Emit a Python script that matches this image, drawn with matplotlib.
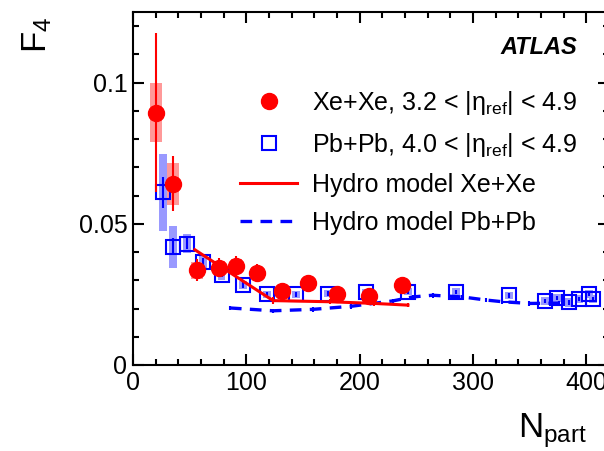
import matplotlib
matplotlib.use("Agg")
import matplotlib.pyplot as plt
from matplotlib.patches import Rectangle
from matplotlib.lines import Line2D
from matplotlib.ticker import MultipleLocator, FormatStrFormatter

plt.rcParams['font.family'] = ['Liberation Sans', 'DejaVu Sans']
plt.rcParams['mathtext.fontset'] = 'custom'
plt.rcParams['mathtext.rm'] = 'Liberation Sans'
plt.rcParams['mathtext.it'] = 'Liberation Sans:italic'

# Xe+Xe measurement
xe_npart = [20.3, 35.2, 56.1, 76.0, 91.3, 109.8, 131.9, 154.5, 180.0, 208.2, 237.6]
xe_f4 = [0.0894, 0.0642, 0.0336, 0.0345, 0.0350, 0.0326, 0.0261, 0.0291, 0.0251, 0.0245, 0.0285]
xe_stat = [0.028, 0.0098, 0.004, 0.0035, 0.0035, 0.003, 0.002, 0.002, 0.002, 0.002, 0.002]
xe_sys = [0.0104, 0.0075, 0.003, 0.0025, 0.0025, 0.002, 0.0018, 0.0018, 0.0018, 0.0018, 0.0018]

# Pb+Pb measurement
pb_npart = [26.1, 35.5, 47.3, 61.4, 78.1, 97.2, 118.3, 143.6, 172.0, 205.3, 242.6,
            284.6, 332.0, 363.6, 374.0, 384.4, 393.8, 402.6, 405.6]
pb_f4 = [0.0612, 0.0418, 0.0430, 0.0365, 0.0320, 0.0283, 0.0250, 0.0250, 0.0253, 0.0257, 0.0259,
         0.0259, 0.0247, 0.0227, 0.0238, 0.0222, 0.0233, 0.0251, 0.0233]
pb_stat = [0.0055, 0.003, 0.002, 0.0015, 0.001, 0.001, 0.001, 0.0008, 0.0008, 0.0008, 0.0008,
           0.0008, 0.0008, 0.0008, 0.0008, 0.0008, 0.0008, 0.0008, 0.0008]
pb_sys = [0.0136, 0.0074, 0.0035, 0.0025, 0.002, 0.0015, 0.0012, 0.0012, 0.0012, 0.0012, 0.0012,
          0.0012, 0.0012, 0.0015, 0.0015, 0.0015, 0.0015, 0.0015, 0.0015]

# hydrodynamic model curves
hydro_xe_npart = [54.6, 123.6, 173.6, 213.0, 242.6]
hydro_xe_f4 = [0.0408, 0.0228, 0.0224, 0.0218, 0.0212]
hydro_xe_err = [0.0, 0.0012, 0.0008, 0.0008, 0.0008]

hydro_pb_npart = [85.5, 123.6, 158.6, 192.7, 229.3, 246.7, 264.3, 290.7, 311.6, 326.0, 349.8, 376.0]
hydro_pb_f4 = [0.0202, 0.0192, 0.0197, 0.0208, 0.0227, 0.0241, 0.0247, 0.0241, 0.0230, 0.0224, 0.0218, 0.0219]
hydro_pb_err = [0.0008] * 12

fig = plt.figure(figsize=(6.04, 4.51), dpi=100)
ax = fig.add_axes([133 / 604, 86 / 451, 476 / 604, 353 / 451])


def sys_boxes(x, y, err, width, color):
    for xi, yi, ei in zip(x, y, err):
        ax.add_patch(Rectangle((xi - width / 2, yi - ei), width, 2 * ei,
                               facecolor=color, edgecolor='none', zorder=1))


sys_boxes(pb_npart, pb_f4, pb_sys, 7, '#9999ff')
sys_boxes(xe_npart, xe_f4, xe_sys, 10.5, '#ff9999')

# model lines
ax.errorbar(hydro_pb_npart, hydro_pb_f4, yerr=hydro_pb_err, color='blue', lw=2.4,
            ls=(0, (3.5, 2.5)), elinewidth=1.5, capsize=0, zorder=2)
ax.errorbar(hydro_xe_npart, hydro_xe_f4, yerr=hydro_xe_err, color='red', lw=2.2,
            elinewidth=1.5, capsize=0, zorder=4)

# data points
ax.errorbar(pb_npart, pb_f4, yerr=pb_stat, fmt='s', color='blue', mfc='none', mec='blue',
            ms=10, mew=1.5, elinewidth=1.5, capsize=0, zorder=3)
ax.errorbar(xe_npart, xe_f4, yerr=xe_stat, fmt='o', color='red', ms=11.5,
            elinewidth=1.5, capsize=0, zorder=5)

ax.set_xlim(0, 420)
ax.set_ylim(0, 0.125)
ax.xaxis.set_major_locator(MultipleLocator(100))
ax.xaxis.set_minor_locator(MultipleLocator(20))
ax.yaxis.set_major_locator(MultipleLocator(0.05))
ax.yaxis.set_minor_locator(MultipleLocator(0.01))
ax.yaxis.set_major_formatter(FormatStrFormatter('%g'))
ax.tick_params(which='both', direction='in', top=True, right=True, width=1.5,
               labelsize=18, pad=4)
ax.tick_params(which='major', length=8)
ax.tick_params(which='minor', length=4)
for sp in ax.spines.values():
    sp.set_linewidth(1.5)

ax.set_xlabel('N$_{\\mathrm{part}}$', fontsize=25, loc='right')
ax.xaxis.set_label_coords(0.954, -0.13)
ax.set_ylabel('F$_4$', fontsize=25, loc='top')
ax.yaxis.set_label_coords(-0.165, 0.986)

fig.text(577 / 604, 1 - 48 / 451, 'ATLAS', ha='right', va='center', fontsize=17,
         fontweight='bold', fontstyle='italic')

handles = [
    Line2D([], [], marker='o', color='red', ls='none', ms=11.5),
    Line2D([], [], marker='s', mfc='none', mec='blue', mew=1.5, ls='none', ms=10),
    Line2D([], [], color='red', lw=2.2),
    Line2D([], [], color='blue', lw=2.4, ls=(0, (3.5, 2.5))),
]
labels = [
    'Xe+Xe, 3.2 < |η$_{\\mathrm{ref}}$| < 4.9',
    'Pb+Pb, 4.0 < |η$_{\\mathrm{ref}}$| < 4.9',
    'Hydro model Xe+Xe',
    'Hydro model Pb+Pb',
]
ax.legend(handles, labels, loc='upper left', bbox_to_anchor=(240 / 604, 1 - 89 / 451),
          bbox_transform=fig.transFigure, frameon=False, fontsize=18, handlelength=2.3,
          handletextpad=0.6, labelspacing=0.56, borderpad=0, borderaxespad=0)

fig.savefig('out.png', dpi=100)
